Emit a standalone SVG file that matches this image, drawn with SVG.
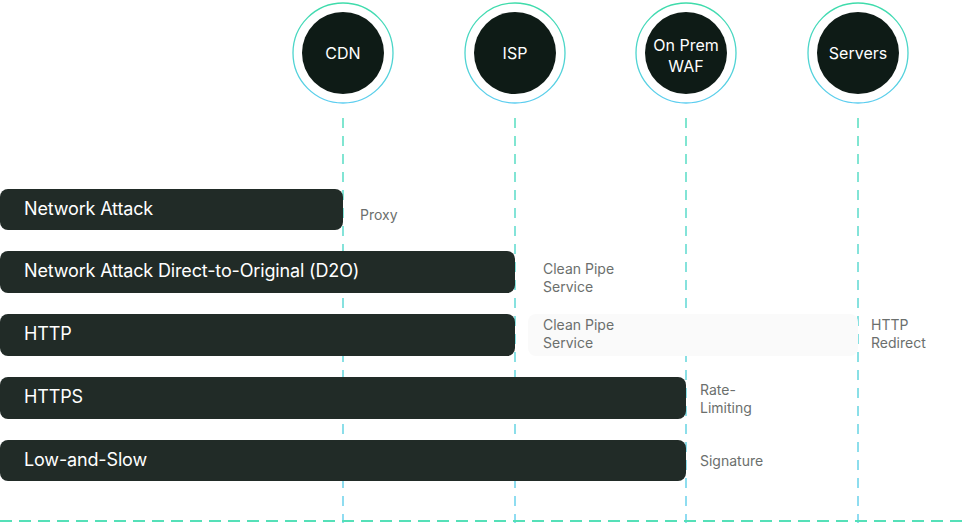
<svg xmlns="http://www.w3.org/2000/svg" width="965" height="523" viewBox="0 0 965 523">
<defs>
<linearGradient id="ring" x1="0" y1="0" x2="0" y2="1">
<stop offset="0" stop-color="#3fdcaa"/>
<stop offset="1" stop-color="#5ccdf0"/>
</linearGradient>
<linearGradient id="vline" gradientUnits="userSpaceOnUse" x1="0" y1="118" x2="0" y2="523">
<stop offset="0" stop-color="#7fe6cf"/>
<stop offset="1" stop-color="#8fdcf2"/>
</linearGradient>
<style>
.ring{fill:#ffffff;stroke:url(#ring);stroke-width:1.3}
.core{fill:#0e1b16}
.ctext{font-family:Inter,"Liberation Sans",sans-serif;font-size:16px;fill:#ffffff;text-anchor:middle}
.bar{fill:#212b27}
.btext{font-family:Inter,"Liberation Sans",sans-serif;font-size:18px;fill:#ffffff;letter-spacing:-0.15px}
.lbl{font-family:Inter,"Liberation Sans",sans-serif;font-size:14px;fill:#6b6f6d}
.vl{stroke:url(#vline);stroke-width:2;stroke-dasharray:10 8;fill:none}
.hl{stroke:#55e0b8;stroke-width:2;stroke-dasharray:12 7;fill:none}
</style>
</defs>
<rect width="965" height="523" fill="#ffffff"/>
<g id="connectors">
<line class="vl" x1="343" y1="118" x2="343" y2="523"/>
<line class="vl" x1="515" y1="118" x2="515" y2="523"/>
<line class="vl" x1="686" y1="118" x2="686" y2="523"/>
<line class="vl" x1="858" y1="118" x2="858" y2="523"/>
<line class="hl" x1="0" y1="521" x2="965" y2="521"/>
</g>
<rect x="528" y="314" width="330" height="42" rx="8" fill="#fafafa"/>
<g id="node-cdn">
<circle class="ring" cx="343" cy="53" r="50"/>
<circle class="core" cx="343" cy="53" r="41"/>
<text class="ctext" x="343" y="59">CDN</text>
</g>
<g id="node-isp">
<circle class="ring" cx="515" cy="53" r="50"/>
<circle class="core" cx="515" cy="53" r="41"/>
<text class="ctext" x="515" y="59">ISP</text>
</g>
<g id="node-waf">
<circle class="ring" cx="686" cy="53" r="50"/>
<circle class="core" cx="686" cy="53" r="41"/>
<text class="ctext" x="686" y="51">On Prem</text>
<text class="ctext" x="686" y="72">WAF</text>
</g>
<g id="node-servers">
<circle class="ring" cx="858" cy="53" r="50"/>
<circle class="core" cx="858" cy="53" r="41"/>
<text class="ctext" x="858" y="59">Servers</text>
</g>
<g id="bar-network-attack">
<rect class="bar" x="0" y="189" width="343" height="41" rx="8"/>
<text class="btext" x="24" y="215">Network Attack</text>
<text class="lbl" x="360" y="220">Proxy</text>
</g>
<g id="bar-d2o">
<rect class="bar" x="0" y="251" width="515" height="42" rx="8"/>
<text class="btext" x="24" y="277">Network Attack Direct-to-Original (D2O)</text>
<text class="lbl" x="543" y="274">Clean Pipe</text>
<text class="lbl" x="543" y="292">Service</text>
</g>
<g id="bar-http">
<rect class="bar" x="0" y="314" width="515" height="42" rx="8"/>
<text class="btext" x="24" y="340">HTTP</text>
<text class="lbl" x="543" y="330">Clean Pipe</text>
<text class="lbl" x="543" y="348">Service</text>
<text class="lbl" x="871" y="330">HTTP</text>
<text class="lbl" x="871" y="348">Redirect</text>
</g>
<g id="bar-https">
<rect class="bar" x="0" y="377" width="686" height="42" rx="8"/>
<text class="btext" x="24" y="403">HTTPS</text>
<text class="lbl" x="700" y="395">Rate-</text>
<text class="lbl" x="700" y="413">Limiting</text>
</g>
<g id="bar-low-slow">
<rect class="bar" x="0" y="440" width="686" height="41" rx="8"/>
<text class="btext" x="24" y="466">Low-and-Slow</text>
<text class="lbl" x="700" y="466">Signature</text>
</g>
</svg>
